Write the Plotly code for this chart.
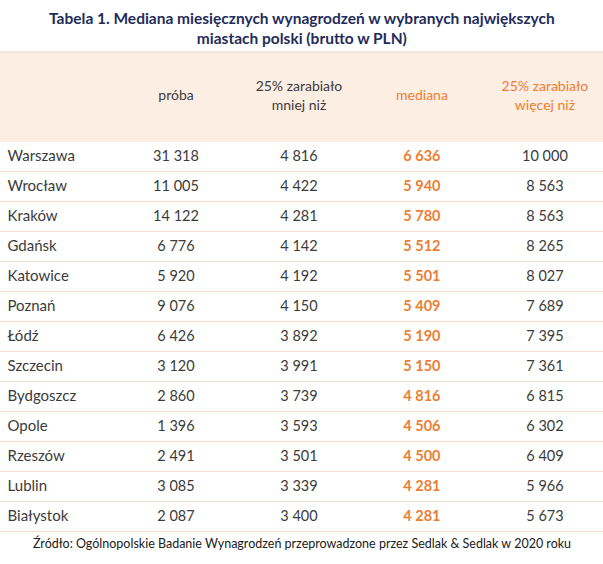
import plotly.graph_objects as go

title_lines = ["Tabela 1. Mediana miesięcznych wynagrodzeń w wybranych największych",
               "miastach polski (brutto w PLN)"]
headers = ["", "próba", "25% zarabiało<br>mniej niż", "mediana", "25% zarabiało<br>więcej niż"]
cities = ["Warszawa", "Wrocław", "Kraków", "Gdańsk", "Katowice", "Poznań", "Łódź",
          "Szczecin", "Bydgoszcz", "Opole", "Rzeszów", "Lublin", "Białystok"]
proba = [31318, 11005, 14122, 6776, 5920, 9076, 6426, 3120, 2860, 1396, 2491, 3085, 2087]
mniej = [4816, 4422, 4281, 4142, 4192, 4150, 3892, 3991, 3739, 3593, 3501, 3339, 3400]
mediana = [6636, 5940, 5780, 5512, 5501, 5409, 5190, 5150, 4816, 4506, 4500, 4281, 4281]
wiecej = [10000, 8563, 8563, 8265, 8027, 7689, 7395, 7361, 6815, 6302, 6409, 5966, 5673]
source = "Źródło: Ogólnopolskie Badanie Wynagrodzeń przeprowadzone przez Sedlak & Sedlak w 2020 roku"

ORANGE = "#ed7d31"
DARK = "#3b3b3b"
NAVY = "#1f2d5a"
FONT = "Lato"
FS = 14.5


def fmt(v):
    return f"{v:,}".replace(",", " ")


rows = list(range(len(cities)))
fig = go.Figure()

# header band
fig.add_shape(type="rect", xref="paper", yref="y", x0=0, x1=1, y0=-3.5, y1=-0.5,
              fillcolor="#fdeee4", line_width=0, layer="below")
fig.add_shape(type="line", xref="paper", yref="y", x0=0, x1=1, y0=-3.5, y1=-3.5,
              line=dict(color="#ead9cc", width=1), layer="below")

# city column
fig.add_trace(go.Scatter(x=[-0.37] * len(cities), y=rows, text=cities, mode="text",
                         textposition="middle right",
                         textfont=dict(family=FONT, size=FS + 0.5, color=DARK),
                         hoverinfo="skip", showlegend=False))

cols = [(proba, DARK, False), (mniej, DARK, False), (mediana, ORANGE, True), (wiecej, DARK, False)]
for j, (vals, col, bold) in enumerate(cols, start=1):
    txt = [("<b>%s</b>" % fmt(v)) if bold else fmt(v) for v in vals]
    fig.add_trace(go.Scatter(x=[j] * len(vals), y=rows, text=txt, mode="text",
                             textposition="middle center",
                             textfont=dict(family=FONT, size=FS, color=col),
                             hoverinfo="skip", showlegend=False))

# header texts
hcolors = [DARK, DARK, DARK, ORANGE, ORANGE]
fig.add_trace(go.Scatter(x=[1, 2, 3, 4], y=[-2] * 4, text=headers[1:], mode="text",
                         textposition="middle center",
                         textfont=dict(family=FONT, size=FS - 0.5, color=hcolors[1:]),
                         hoverinfo="skip", showlegend=False))

fig.add_annotation(text="<b>" + title_lines[0] + "</b><br><b>" + title_lines[1] + "</b>",
                   xref="paper", yref="paper", x=0.5, y=1.0, yanchor="top", yshift=-7,
                   showarrow=False, font=dict(family=FONT, size=15.5, color=NAVY))
fig.add_annotation(text=source, xref="paper", yref="y", x=0.5, y=12.87,
                   showarrow=False, font=dict(family=FONT, size=12.5, color="#202020"))

fig.update_xaxes(range=[-0.431, 4.472], visible=False, fixedrange=True)
fig.update_yaxes(range=[13.567, -5.233], showticklabels=False, zeroline=False,
                 tickmode="array", tickvals=[r + 0.5 for r in rows],
                 showgrid=True, gridcolor="#f7dcc8", gridwidth=1, fixedrange=True)
fig.update_layout(width=603, height=564, margin=dict(l=0, r=0, t=0, b=0),
                  plot_bgcolor="white", paper_bgcolor="white")
fig.write_html("out.html", post_script="document.body.style.margin='0';",
               config={"displayModeBar": False})
